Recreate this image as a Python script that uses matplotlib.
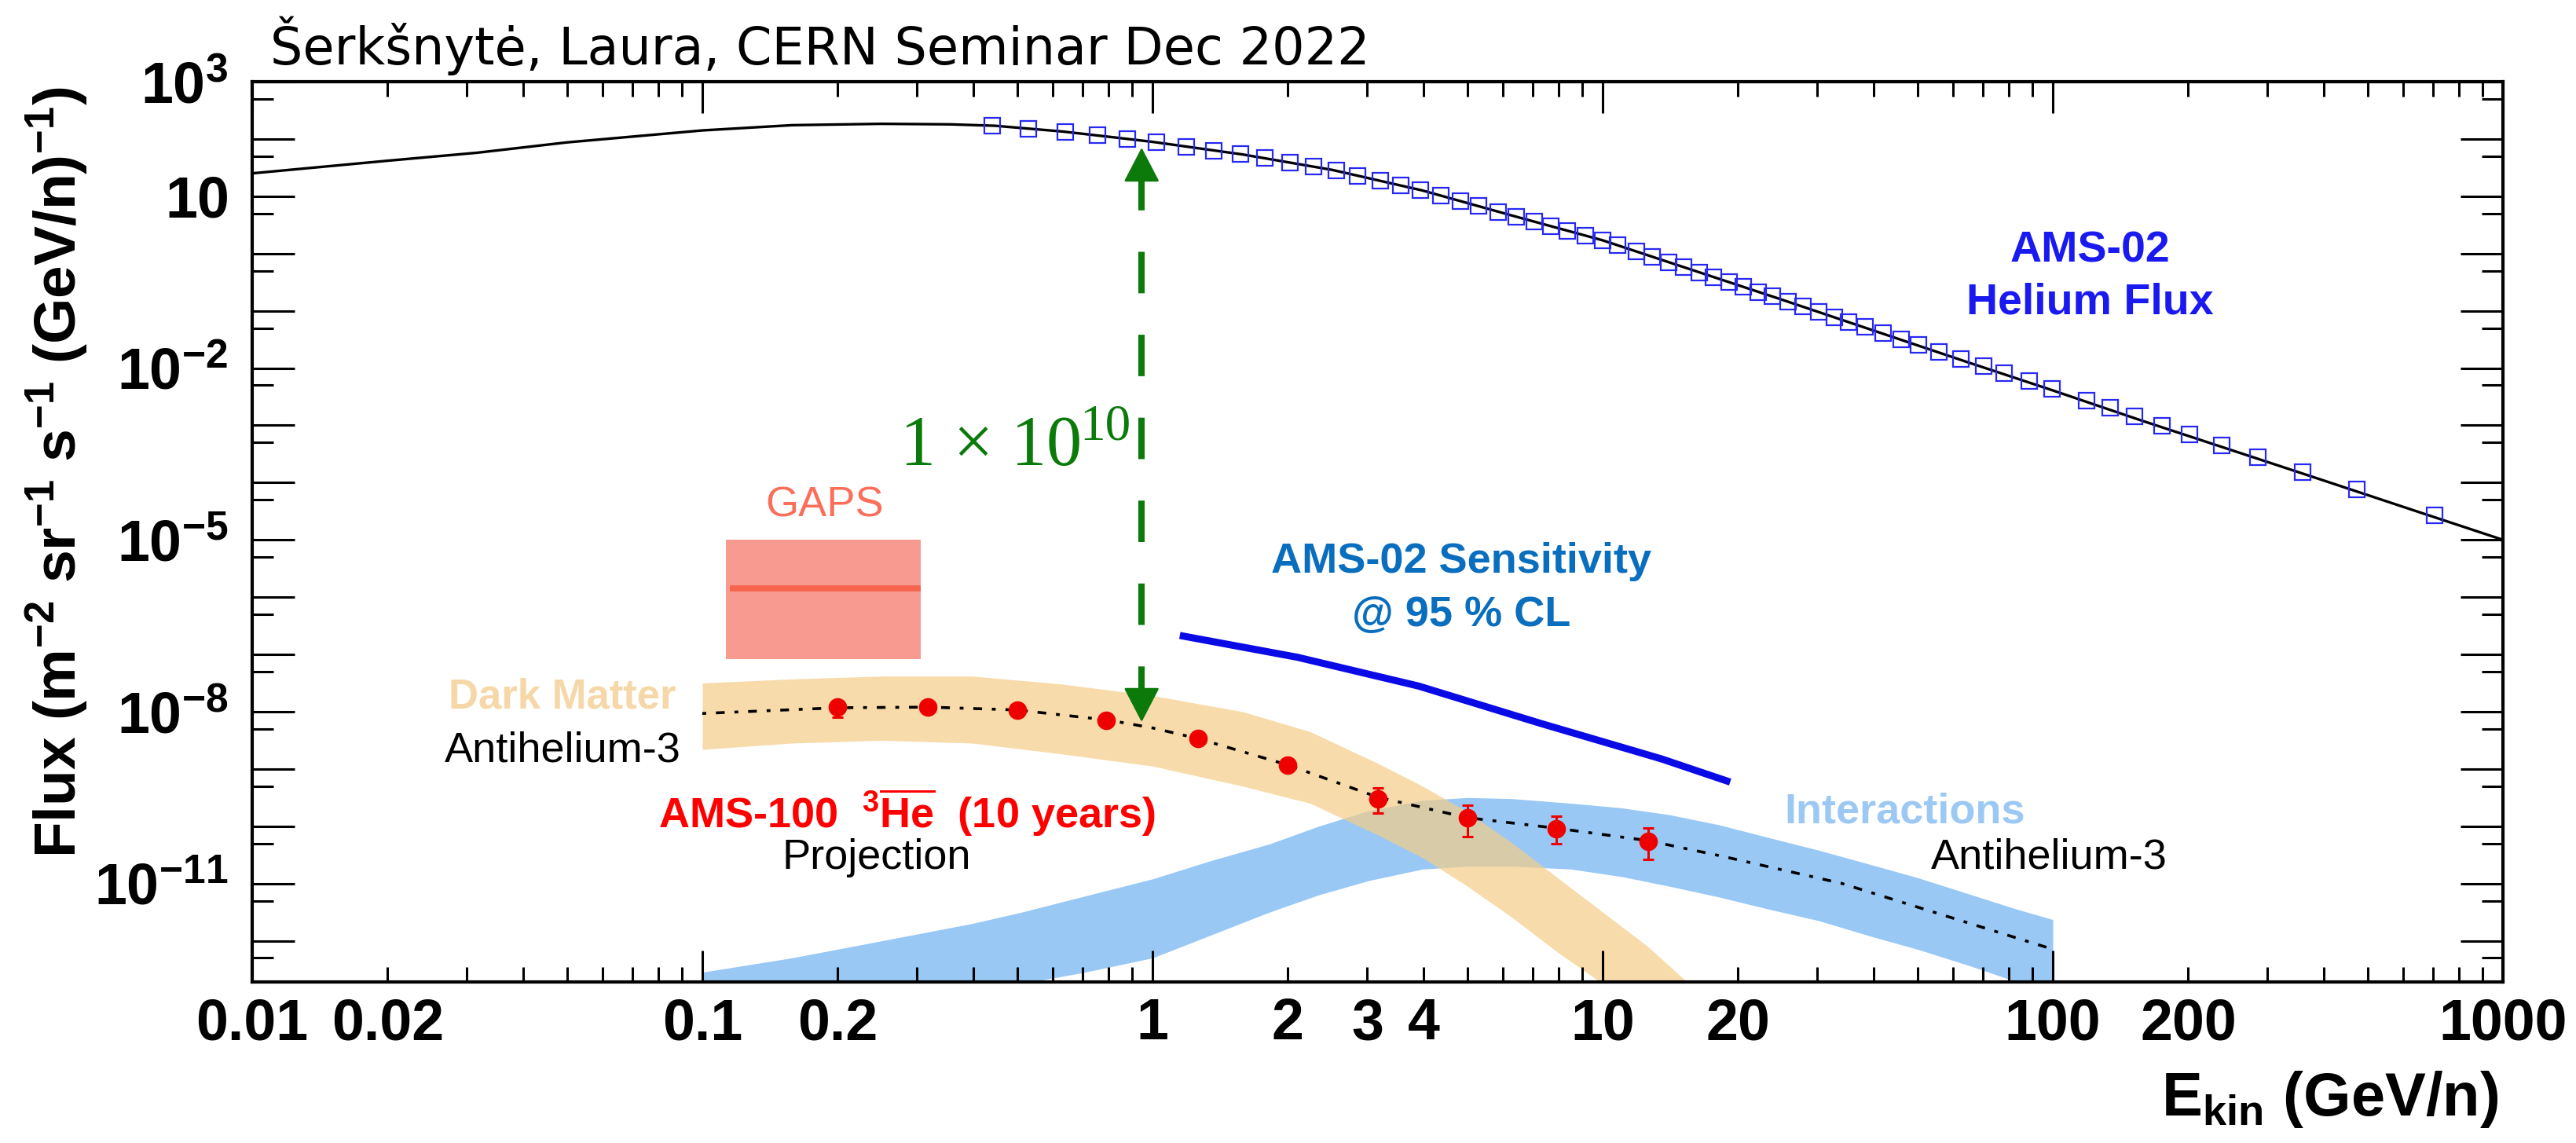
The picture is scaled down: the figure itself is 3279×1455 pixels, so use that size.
import matplotlib
matplotlib.use("Agg")
import matplotlib.pyplot as plt
from matplotlib.ticker import FixedLocator, FixedFormatter

W, H = 3279, 1455

# AMS-02 helium flux, model curve (black line)
he_curve_e = [0.01, 0.02, 0.0316, 0.05, 0.1, 0.158, 0.25, 0.355, 0.447, 0.631, 0.794, 1.0,
              1.585, 2.51, 3.98, 6.31, 10.0, 15.85, 25.1, 39.8, 63.1, 100, 158, 251, 398, 631, 1000]
he_curve_f = [25.1, 41.7, 57.5, 87.1, 141, 174, 184, 180, 170, 135, 110, 89.1,
              53.7, 28.8, 12.6, 4.57, 1.70, 0.513, 0.155, 0.0457, 0.0135, 0.00407, 0.00120,
              3.63e-4, 1.10e-4, 3.31e-5, 1.0e-5]

# AMS-02 helium flux, measured points (blue squares)
he_data_e = [0.44, 0.53, 0.64, 0.755, 0.88, 1.02, 1.19, 1.37, 1.57, 1.78, 2.02, 2.28, 2.56, 2.86,
             3.21, 3.56, 3.93, 4.37, 4.84, 5.3, 5.87, 6.44, 7.06, 7.67, 8.34, 9.15, 9.98, 10.8,
             11.9, 12.9, 14.0, 15.1, 16.4, 17.6, 19.1, 20.5, 22.2, 23.8, 25.8, 27.9, 30.2, 32.7,
             35.2, 38.2, 41.9, 46.0, 50.4, 55.8, 62.6, 70.3, 77.8, 88.5, 99.4, 119, 134, 152,
             175, 201, 237, 285, 359, 473, 706]
he_data_f = [171, 152, 133, 115, 100, 87.3, 73.6, 63.0, 54.2, 46.0, 38.7, 32.9, 27.9, 22.9,
             18.5, 15.4, 12.9, 10.3, 8.19, 6.71, 5.35, 4.37, 3.59, 3.00, 2.51, 2.06, 1.71, 1.39,
             1.08, 0.873, 0.708, 0.582, 0.469, 0.389, 0.315, 0.262, 0.214, 0.178, 0.144, 0.118,
             0.0959, 0.0778, 0.0643, 0.0521, 0.0410, 0.0321, 0.0254, 0.0194, 0.0144, 0.0107,
             0.00818, 0.00586, 0.00435, 0.00271, 0.00200, 0.00144, 9.96e-4, 6.95e-4, 4.52e-4,
             2.80e-4, 1.54e-4, 7.50e-5, 2.65e-5]

# Dark matter antihelium-3 band
dm_e = [0.1, 0.158, 0.251, 0.398, 0.631, 1.0, 1.585, 2.24, 3.16, 3.98, 5.01, 6.31, 7.94, 10.0, 12.6, 15.8]
dm_hi = [3.16e-8, 3.72e-8, 4.17e-8, 4.17e-8, 3.02e-8, 1.91e-8, 1.0e-8, 4.47e-9, 1.26e-9, 5.01e-10,
         1.78e-10, 5.01e-11, 1.26e-11, 3.16e-12, 7.94e-13, 1.58e-13]
dm_lo = [2.19e-9, 2.82e-9, 3.16e-9, 2.82e-9, 1.82e-9, 1.12e-9, 5.01e-10, 2.51e-10, 7.08e-11, 2.82e-11,
         8.91e-12, 2.51e-12, 6.31e-13, 1.78e-13, 5.01e-14, 1.26e-14]

# Interactions (secondary) antihelium-3 band
int_e = [0.1, 0.158, 0.251, 0.398, 0.513, 0.708, 1.0, 1.35, 1.82, 2.34, 3.02, 3.98, 5.01, 6.31, 8.51,
         11.0, 14.1, 18.2, 23.4, 30.2, 39.8, 50.1, 66.1, 83.2, 100]
int_hi = [2.82e-13, 5.01e-13, 1.0e-12, 2.0e-12, 3.16e-12, 6.03e-12, 1.2e-11, 2.51e-11, 4.9e-11,
          1.0e-10, 1.86e-10, 2.82e-10, 3.16e-10, 3.02e-10, 2.51e-10, 2.09e-10, 1.58e-10, 1.05e-10,
          6.31e-11, 3.80e-11, 2.09e-11, 1.26e-11, 6.31e-12, 3.55e-12, 2.34e-12]
int_lo = [1e-14, 2.51e-14, 5.01e-14, 1e-13, 1.78e-13, 2.82e-13, 5.01e-13, 1.26e-12, 3.16e-12,
          6.31e-12, 1.12e-11, 1.78e-11, 2.0e-11, 2.0e-11, 1.78e-11, 1.32e-11, 8.91e-12, 5.75e-12,
          3.55e-12, 2.24e-12, 1.17e-12, 7.08e-13, 3.55e-13, 1.91e-13, 1.26e-13]

# AMS-100 projection (dotted line + points)
proj_e = [0.1, 0.2, 0.32, 0.5, 0.8, 1.0, 1.26, 2.0, 3.17, 5.0, 8.0, 12.6, 18.4, 34, 63, 100]
proj_f = [9.3e-9, 1.17e-8, 1.2e-8, 1.07e-8, 7.1e-9, 5.2e-9, 3.4e-9, 1.17e-9, 3.2e-10, 1.41e-10,
          9.1e-11, 5.6e-11, 3.0e-11, 1.0e-11, 2.2e-12, 7.1e-13]
pts_e = [0.2, 0.317, 0.5, 0.79, 1.26, 2.0, 3.17, 5.0, 7.9, 12.6]
pts_f = [1.2e-8, 1.2e-8, 1.05e-8, 7.0e-9, 3.4e-9, 1.15e-9, 3.0e-10, 1.4e-10, 9.1e-11, 5.5e-11]
pts_lo = [8.0e-9, 1.1e-8, 9.5e-9, 6.2e-9, 3.0e-9, 9.5e-10, 1.7e-10, 6.6e-11, 5.0e-11, 2.6e-11]
pts_hi = [1.45e-8, 1.3e-8, 1.15e-8, 7.8e-9, 3.8e-9, 1.4e-9, 4.6e-10, 2.3e-10, 1.5e-10, 9.3e-11]

# AMS-02 sensitivity
sens_e = [1.15, 2.1, 3.9, 7.3, 13.5, 19.2]
sens_f = [2.14e-7, 8.9e-8, 2.8e-8, 6.2e-9, 1.5e-9, 5.9e-10]

# GAPS box
gaps_e = [0.113, 0.305]
gaps_lo, gaps_hi, gaps_mid = 8.3e-8, 1.0e-5, 1.4e-6

# green ratio arrow
arrow_e = 0.946
arrow_top, arrow_top_base = 70.6, 23.4
arrow_bot, arrow_bot_base = 6.6e-9, 2.13e-8
dash_top, dash_bot = 30.1, 2.13e-8

x_major = [0.01, 0.1, 1, 10, 100, 1000]
x_major_labels = ["0.01", "0.1", "1", "10", "100", "1000"]
x_minor_labeled = {0.02: "0.02", 0.2: "0.2", 2: "2", 3: "3", 4: "4", 20: "20", 200: "200"}
y_labeled = {3: "3", 1: None, -2: "-2", -5: "-5", -8: "-8", -11: "-11"}

plt.rcParams["font.family"] = "Liberation Sans"
plt.rcParams["mathtext.fontset"] = "custom"
plt.rcParams["mathtext.rm"] = "Liberation Sans"
plt.rcParams["mathtext.bf"] = "Liberation Sans:bold"
plt.rcParams["mathtext.it"] = "Liberation Sans:italic"
plt.rcParams["lines.scale_dashes"] = False

fig = plt.figure(figsize=(W / 100, H / 100), dpi=100)
ax = fig.add_axes([321 / W, 1 - 1250 / H, (3186 - 321) / W, (1250 - 104) / H])
ax.set_xscale("log")
ax.set_yscale("log")

ax.fill_between(int_e, int_lo, int_hi, color="#99c8f5", lw=0, zorder=1)
ax.fill_between(dm_e, dm_lo, dm_hi, color=(244 / 255, 205 / 255, 136 / 255), alpha=0.7, lw=0, zorder=1.1)
ax.fill_between(gaps_e, gaps_lo, gaps_hi, color="#f99a90", lw=0, zorder=1.2)
ax.plot([gaps_e[0] * 1.02, gaps_e[1]], [gaps_mid, gaps_mid], color="#f8644e", lw=5.5, solid_capstyle="butt")

ax.plot(he_curve_e, he_curve_f, color="black", lw=2.4, zorder=3)
ax.plot(he_data_e, he_data_f, "s", ms=14, mfc="none", mec="#2828f5", mew=1.6, zorder=4)

ax.plot(sens_e, sens_f, color="#0a0ae6", lw=6.5, solid_capstyle="butt", zorder=3)

ax.plot(proj_e, proj_f, color="black", lw=2.6, dashes=(3.5, 9, 8, 9), zorder=4)
yerr = [[f - lo for f, lo in zip(pts_f, pts_lo)], [hi - f for f, hi in zip(pts_f, pts_hi)]]
ax.errorbar(pts_e, pts_f, yerr=yerr, fmt="o", color="#ee0000", ms=16, elinewidth=2.2,
            capsize=5, capthick=2.2, zorder=5)

green = "#0b7a0b"
ax.plot([arrow_e, arrow_e], [dash_top, dash_bot], color=green, lw=5.8, dashes=(38, 38), zorder=4)
for tip, base in [(arrow_top, arrow_top_base), (arrow_bot, arrow_bot_base)]:
    ax.annotate("", xy=(arrow_e, tip), xytext=(arrow_e, base),
                arrowprops=dict(arrowstyle="-|>,head_length=1.0,head_width=0.52",
                                mutation_scale=28, color=green, lw=2, shrinkA=0, shrinkB=0),
                zorder=5)

ax.set_xlim(0.01, 1000)
ax.set_ylim(10 ** -12.72, 1e3)

x_minor = [k * 10.0 ** d for d in range(-2, 3) for k in range(2, 10)]
minor_labels = []
for v in x_minor:
    lab = ""
    for key, txt in x_minor_labeled.items():
        if abs(v - key) < 1e-9 * max(1, key):
            lab = txt
    minor_labels.append(lab)
ax.xaxis.set_major_locator(FixedLocator(x_major))
ax.xaxis.set_major_formatter(FixedFormatter(x_major_labels))
ax.xaxis.set_minor_locator(FixedLocator(x_minor))
ax.xaxis.set_minor_formatter(FixedFormatter(minor_labels))

y_major = [10.0 ** d for d in range(-12, 4)]
y_labels = []
for d in range(-12, 4):
    if d in y_labeled:
        y_labels.append(r"$\mathbf{10}$" if d == 1 else r"$\mathbf{10^{%s}}$" % y_labeled[d])
    else:
        y_labels.append("")
ax.yaxis.set_major_locator(FixedLocator(y_major))
ax.yaxis.set_major_formatter(FixedFormatter(y_labels))
ax.yaxis.set_minor_locator(FixedLocator([5 * 10.0 ** d for d in range(-13, 3)]))
ax.yaxis.set_minor_formatter(FixedFormatter([""] * 16))

ax.tick_params(which="both", direction="in", top=True, right=True, width=2.2, labelsize=53)
ax.tick_params(axis="x", which="major", length=29, pad=14)
ax.tick_params(axis="x", which="minor", length=14, pad=14)
ax.tick_params(axis="y", which="major", length=39, pad=22)
ax.tick_params(axis="y", which="minor", length=19.5)
for lbl in ax.get_xticklabels(which="both"):
    lbl.set_fontweight("bold")
for sp in ax.spines.values():
    sp.set_linewidth(3)


def ftxt(x, y, s, **kw):
    fig.text(x / W, 1 - y / H, s, **kw)


ftxt(344, 82, "Šerkšnytė, Laura, CERN Seminar Dec 2022", fontfamily="DejaVu Sans", fontsize=47, va="baseline")
ftxt(73, 110, r"Flux (m$^{\mathbf{-2}}$ sr$^{\mathbf{-1}}$ s$^{\mathbf{-1}}$ (GeV/n)$^{\mathbf{-1}}$)",
     fontsize=54, fontweight="bold", rotation=90, ha="center", va="top")
ftxt(3180, 1420, r"$\mathbf{E_{kin}}$ (GeV/n)", fontsize=56, fontweight="bold", ha="right", va="baseline")

ftxt(1050, 643, "GAPS", fontsize=39, color="#fa6e5a", ha="center", va="center")
ftxt(716, 887, "Dark Matter", fontsize=38, fontweight="bold", color="#f6d8a8", ha="center", va="center")
ftxt(716, 956, "Antihelium-3", fontsize=39, ha="center", va="center")
ftxt(1155, 1034, r"AMS-100  ${}^{\mathbf{3}}\overline{\mathbf{He}}$  (10 years)", fontsize=39,
     fontweight="bold", color="red", ha="center", va="center")
ftxt(1116, 1092, "Projection", fontsize=39, ha="center", va="center")
ftxt(1860, 715, "AMS-02 Sensitivity", fontsize=39, fontweight="bold", color="#0a6ebe", ha="center", va="center")
ftxt(1860, 783, "@ 95 % CL", fontsize=39, fontweight="bold", color="#0a6ebe", ha="center", va="center")
ftxt(2425, 1034, "Interactions", fontsize=39, fontweight="bold", color="#9cc8f4", ha="center", va="center")
ftxt(2608, 1091, "Antihelium-3", fontsize=39, ha="center", va="center")
ftxt(2660, 319, "AMS-02", fontsize=40, fontweight="bold", color="#1a1af0", ha="center", va="center")
ftxt(2660, 385, "Helium Flux", fontsize=40, fontweight="bold", color="#1a1af0", ha="center", va="center")

ftxt(1146, 592, "1 × 10", fontfamily="Liberation Serif", fontsize=65, color=green, va="baseline")
ftxt(1374, 560, "10", fontfamily="Liberation Serif", fontsize=47, color=green, va="baseline")

fig.savefig("out.png", dpi=100)
